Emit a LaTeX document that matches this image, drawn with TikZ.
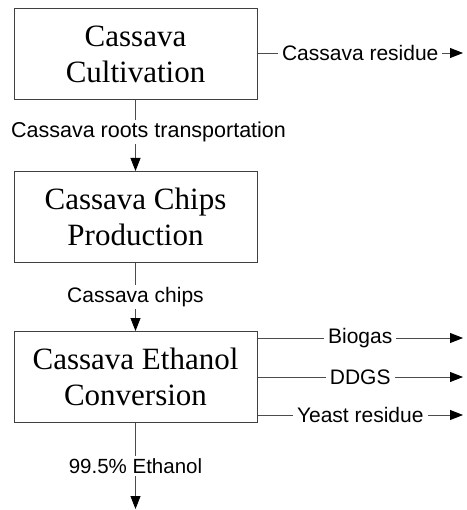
\documentclass[tikz,border=0pt]{standalone}
\usepackage{fontspec}
\setmainfont{Liberation Serif}
\setsansfont{Liberation Sans}
\usetikzlibrary{positioning, arrows.meta, calc}

\begin{document}
\begin{tikzpicture}[
    x=1pt,y=-1pt,
    process/.style={draw=black!75, line width=1pt, rectangle, minimum width=243pt, minimum height=91pt, inner sep=0pt, align=center, font=\fontsize{31}{36}\selectfont},
    flow/.style={draw=black!70, line width=0.8pt, -{Triangle[length=13pt, width=10pt, black]}},
    flowlabel/.style={fill=white, inner xsep=4pt, inner ysep=2pt, font=\sffamily\fontsize{21}{24}\selectfont}
]
    \useasboundingbox (0,0) rectangle (466,510);

    % ================= PROCESSES =================
    \node[process] (CULT) at (135.5, 54.5) {Cassava\\Cultivation};
    \node[process] (CHIPS) at (135.5, 217) {Cassava Chips\\Production};
    \node[process] (CONV) at (135.5, 377) {Cassava Ethanol\\Conversion};

    % ================= MAIN FLOW =================
    \coordinate (ethanol end) at (135.5, 509);

    \draw[flow] (CULT) -- (CHIPS) node[pos=0.45, xshift=13pt, flowlabel, font=\sffamily\fontsize{21.5}{24}\selectfont] {Cassava roots transportation};
    \draw[flow] (CHIPS) -- (CONV) node[midway, flowlabel] {Cassava chips};
    \draw[flow] (CONV) -- (ethanol end) node[midway, flowlabel, font=\sffamily\fontsize{20.5}{23}\selectfont] {99.5\% Ethanol};

    % ================= BY-PRODUCTS =================
    \coordinate (residue end) at (463, 53);
    \coordinate (biogas end) at (463, 338);
    \coordinate (ddgs end) at (463, 377);
    \coordinate (yeast end) at (463, 415);

    \draw[flow] (CULT.east |- residue end) -- (residue end) node[midway, flowlabel] {Cassava residue};
    \draw[flow] (CONV.east |- biogas end) -- (biogas end) node[midway, flowlabel] {Biogas};
    \draw[flow] (CONV.east |- ddgs end) -- (ddgs end) node[midway, flowlabel] {DDGS};
    \draw[flow] (CONV.east |- yeast end) -- (yeast end) node[midway, flowlabel] {Yeast residue};

\end{tikzpicture}
\end{document}
